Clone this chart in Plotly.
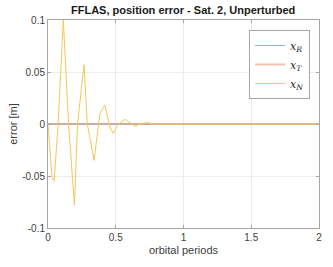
import plotly.graph_objects as go

# Data (orbital periods, error in m)
t_flat = [0.0, 2.0]
x_R = [0.0, 0.0]
x_T = [0.0, 0.0]

t_N = [0.0, 0.03, 0.045, 0.075, 0.113, 0.152, 0.195, 0.218, 0.266, 0.29, 0.34,
       0.378, 0.384, 0.42, 0.455, 0.48, 0.52, 0.57, 0.61, 0.64, 0.68, 0.73,
       0.78, 0.85, 0.9, 2.0]
x_N = [0.0, -0.052, -0.055, 0.0, 0.1, 0.0, -0.078, 0.0, 0.057, 0.0, -0.035,
       0.008, 0.0105, 0.018, -0.002, -0.009, 0.0, 0.0045, 0.001, -0.002, 0.0,
       0.0013, 0.0, 0.0003, 0.0, 0.0]

x_ticks = [0, 0.5, 1, 1.5, 2]
x_ticklabels = ["0", "0.5", "1", "1.5", "2"]
y_ticks = [-0.1, -0.05, 0, 0.05, 0.1]
y_ticklabels = ["-0.1", "-0.05", "0", "0.05", "0.1"]

fig = go.Figure()
fig.add_trace(go.Scatter(x=t_flat, y=x_R, mode="lines",
                         line=dict(color="#80b5de", width=1),
                         name="<i>x</i><sub><i>R</i></sub>"))
fig.add_trace(go.Scatter(x=t_flat, y=x_T, mode="lines",
                         line=dict(color="rgba(225,120,80,0.45)", width=2),
                         name="<i>x</i><sub><i>T</i></sub>"))
fig.add_trace(go.Scatter(x=t_N, y=x_N, mode="lines",
                         line=dict(color="#f3c858", width=1),
                         name="<i>x</i><sub><i>N</i></sub>"))

axis_common = dict(showline=True, mirror="ticks", linecolor="#a6a6a6", linewidth=1,
                   ticks="inside", ticklen=3, tickcolor="#a6a6a6",
                   showgrid=True, gridcolor="#ececec", gridwidth=1,
                   zeroline=False, automargin=False,
                   tickfont=dict(family="Liberation Sans, Arial", size=10, color="#404040"))

fig.update_layout(
    width=333, height=267,
    margin=dict(l=48, r=14, t=20, b=39, autoexpand=False),
    paper_bgcolor="white", plot_bgcolor="white",
    title=dict(text="<b>FFLAS, position error - Sat. 2, Unperturbed</b>",
               x=0.55, xanchor="center", y=0.962, yanchor="middle",
               font=dict(family="Liberation Sans, Arial", size=11, color="#1a1a1a"),
               automargin=False),
    xaxis=dict(range=[0, 2], tickvals=x_ticks, ticktext=x_ticklabels,
               title=dict(text="orbital periods", standoff=4,
                          font=dict(family="Liberation Sans, Arial", size=11, color="#404040")),
               **axis_common),
    yaxis=dict(range=[-0.1, 0.1], tickvals=y_ticks, ticktext=y_ticklabels,
               title=dict(text="error [m]", standoff=2,
                          font=dict(family="Liberation Sans, Arial", size=11, color="#404040")),
               **axis_common),
    legend=dict(x=0.967, y=0.952, xanchor="right", yanchor="top",
                bgcolor="white", bordercolor="#a6a6a6", borderwidth=1,
                font=dict(family="DejaVu Serif, Liberation Serif", size=11, color="#262626"),
                tracegroupgap=0, itemwidth=30),
    showlegend=True,
)

fig.write_html("out.html", config={"displayModeBar": False},
               post_script="document.body.style.margin='0';")
